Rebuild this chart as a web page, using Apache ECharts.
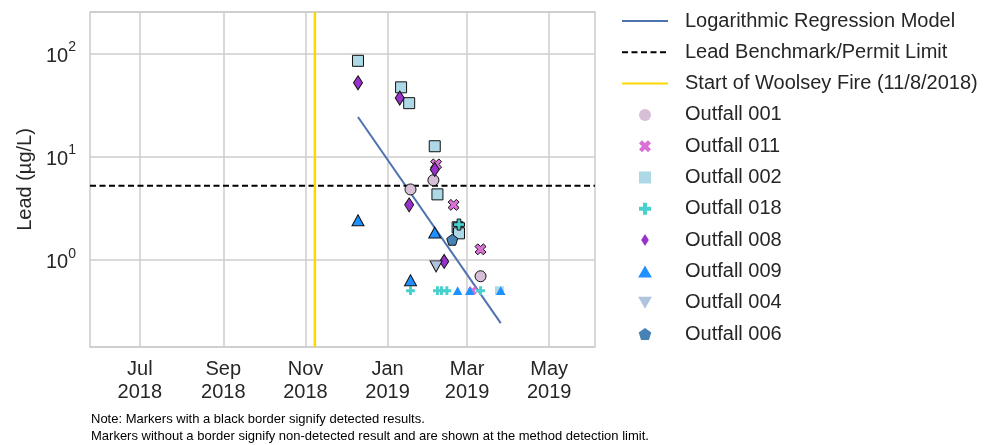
<!DOCTYPE html>
<html><head><meta charset="utf-8">
<script src="https://cdn.jsdelivr.net/npm/echarts@6/dist/echarts.min.js"></script>
<style>html,body{margin:0;padding:0;background:#fff}#c{width:1008px;height:445px}</style>
</head><body><div id="c"></div>
<script>
const xTickDates = ['2018-07-01','2018-09-01','2018-11-01','2019-01-01','2019-03-01','2019-05-01'];
const xTickLabels = ['Jul\n2018','Sep\n2018','Nov\n2018','Jan\n2019','Mar\n2019','May\n2019'];
const xRange = ['2018-05-25','2019-06-04'];
const yRange = [0.142, 253];
const benchmark = 5.2;
const fireDate = '2018-11-08';
const regression = [['2018-12-10', 24.2], ['2019-03-26', 0.242]];
// [date, value, detected (1) / non-detected (0)]
const outfall001 = [['2019-01-18',4.8,1],['2019-02-04',5.9,1],['2019-03-11',0.69,1]];
const outfall011 = [['2019-02-06',8.4,1],['2019-02-19',3.4,1],['2019-03-11',1.26,1],['2019-03-05',0.5,0]];
const outfall002 = [['2018-12-10',85,1],['2019-01-11',47,1],['2019-01-17',33,1],['2019-02-05',12.6,1],['2019-02-07',4.3,1],['2019-02-22',2.06,1],['2019-02-23',1.8,1],['2019-03-25',0.5,0]];
const outfall018 = [['2019-02-23',2.19,1],['2019-01-18',0.5,0],['2019-02-07',0.5,0],['2019-02-10',0.5,0],['2019-02-14',0.5,0],['2019-03-11',0.5,0]];
const outfall008 = [['2018-12-10',52,1],['2019-01-10',37,1],['2019-01-17',3.4,1],['2019-02-05',7.5,1],['2019-02-12',0.96,1]];
const outfall009 = [['2018-12-10',2.41,1],['2019-01-18',0.63,1],['2019-02-05',1.83,1],['2019-02-22',0.5,0],['2019-03-03',0.5,0],['2019-03-26',0.5,0]];
const outfall004 = [['2019-02-06',0.86,1]];
const outfall006 = [['2019-02-18',1.56,1]];

const FONT = '"Liberation Sans", Arial, sans-serif';
const TXT = '#262626';
const P = d => Date.parse(d + 'T00:00:00Z');
const tickTs = xTickDates.map(P);

const X_PATH = 'path://M141,-283L283,-141L141,0L283,141L141,283L0,141L-141,283L-283,141L-141,0L-283,-141L-141,-283L0,-141Z';
const PLUS_PATH = 'path://M-100,-300L100,-300L100,-100L300,-100L300,100L100,100L100,300L-100,300L-100,100L-300,100L-300,-100L-100,-100Z';
const PENT_PATH = 'path://M0,-100L95,-31L59,81L-59,81L-95,-31Z';
const RECT_PATH = 'path://M-100,-100L100,-100L100,100L-100,100Z';
const DIAM_PATH = 'path://M0,-100L64,0L0,100L-64,0Z';
const TRI_UP = 'path://M0,-87L100,87L-100,87Z';
const TRI_DN = 'path://M-100,-87L100,-87L0,87Z';

function sc(name, data, symbol, color, size) {
  const small = Array.isArray(size) ? size.map(s => s * 0.8) : size * 0.8;
  return {
    type: 'scatter', name, symbol, z: 5,
    itemStyle: { color, borderColor: '#111', borderWidth: 1, opacity: 1 },
    data: data.map(d => ({
      value: [P(d[0]), d[1]],
      symbolSize: d[2] ? size : small,
      itemStyle: { borderWidth: d[2] ? 1 : 0 }
    }))
  };
}

const series = [
  { type: 'line', name: 'Logarithmic Regression Model', symbol: 'none', data: regression.map(d => [P(d[0]), d[1]]),
    lineStyle: { color: '#4c72b0', width: 2 }, itemStyle: { color: '#4c72b0' }, z: 3 },
  { type: 'line', name: 'Lead Benchmark/Permit Limit', symbol: 'none',
    data: [[P(xRange[0]), benchmark], [P(xRange[1]), benchmark]],
    lineStyle: { color: '#000', width: 2, type: [6, 3.5] }, itemStyle: { color: '#000' }, z: 3 },
  { type: 'line', name: 'Start of Woolsey Fire (11/8/2018)', symbol: 'none',
    data: [[P(fireDate), yRange[0]], [P(fireDate), yRange[1]]],
    lineStyle: { color: '#ffd700', width: 2.5 }, itemStyle: { color: '#ffd700' }, z: 3 },
  sc('Outfall 001', outfall001, 'circle', '#d8bfd8', 11),
  sc('Outfall 011', outfall011, X_PATH, '#da70d6', 11),
  sc('Outfall 002', outfall002, RECT_PATH, '#add8e6', 11),
  sc('Outfall 018', outfall018, PLUS_PATH, '#48d1cc', 11),
  sc('Outfall 008', outfall008, DIAM_PATH, '#9932cc', [9, 14]),
  sc('Outfall 009', outfall009, TRI_UP, '#1e90ff', [12, 11]),
  sc('Outfall 004', outfall004, TRI_DN, '#b0c4de', [12, 11]),
  sc('Outfall 006', outfall006, PENT_PATH, '#4682b4', 11)
];

const chart = echarts.init(document.getElementById('c'), null, { renderer: 'canvas' });
chart.setOption({
  animation: false,
  backgroundColor: '#fff',
  textStyle: { fontFamily: FONT },
  grid: { left: 90, top: 12, width: 505, height: 335, show: true, borderColor: '#cccccc', borderWidth: 1.5, backgroundColor: '#fff' },
  xAxis: {
    type: 'value', min: P(xRange[0]), max: P(xRange[1]), scale: true,
    axisLine: { show: false },
    axisTick: { show: false, customValues: tickTs },
    splitLine: { show: true, lineStyle: { color: '#cccccc', width: 1.5 } },
    axisLabel: {
      customValues: tickTs, margin: 11, fontSize: 20, lineHeight: 23, color: TXT, fontFamily: FONT,
      formatter: v => { const i = tickTs.indexOf(v); return i >= 0 ? xTickLabels[i] : ''; }
    }
  },
  yAxis: {
    type: 'log', logBase: 10, min: yRange[0], max: yRange[1],
    axisLine: { show: false }, axisTick: { show: false },
    splitLine: { show: true, lineStyle: { color: '#cccccc', width: 1.5 } },
    name: 'Lead (µg/L)', nameLocation: 'middle', nameGap: 52,
    nameTextStyle: { fontSize: 20, color: TXT, fontFamily: FONT },
    axisLabel: {
      showMinLabel: false, showMaxLabel: false, margin: 14, color: TXT,
      formatter: v => { const e = Math.log10(v); if (Math.abs(e - Math.round(e)) > 1e-6) return ''; return '{b|10}{s|' + Math.round(e) + '}'; },
      rich: {
        b: { fontSize: 20, color: TXT, fontFamily: FONT, lineHeight: 26, verticalAlign: 'bottom' },
        s: { fontSize: 14, color: TXT, fontFamily: FONT, lineHeight: 26, verticalAlign: 'top' }
      }
    }
  },
  legend: {
    orient: 'vertical', left: 621, top: 9, padding: 0,
    itemWidth: 46, itemHeight: 12, itemGap: 7.3,
    textStyle: { fontSize: 20, color: TXT, fontFamily: FONT, lineHeight: 24, padding: [0, 0, 0, 12] },
    itemStyle: { borderWidth: 0 },
    data: series.map(s => s.type === 'line'
      ? { name: s.name, itemStyle: { color: 'rgba(0,0,0,0)', borderWidth: 0, opacity: 0 } }
      : { name: s.name })
  },
  graphic: [{
    type: 'text', left: 91, top: 411,
    style: {
      text: 'Note: Markers with a black border signify detected results.\nMarkers without a border signify non-detected result and are shown at the method detection limit.',
      fontSize: 13, lineHeight: 17, fill: '#000', fontFamily: FONT
    }
  }],
  series
});
</script></body></html>
